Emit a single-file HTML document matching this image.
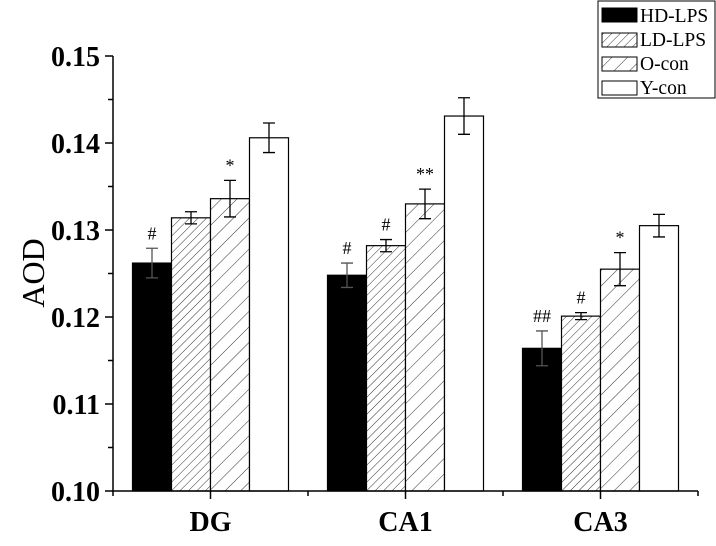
<!DOCTYPE html>
<html><head><meta charset="utf-8"><style>
body{margin:0;background:#fff;}
svg{display:block;font-family:"Liberation Serif",serif;}
</style></head><body>
<svg id="chart" width="716" height="546" viewBox="0 0 716 546">
<defs>
<pattern id="hatchDense" patternUnits="userSpaceOnUse" width="6" height="6" patternTransform="rotate(45)"><rect width="6" height="6" fill="#fff"/><line x1="0" y1="0" x2="0" y2="6" stroke="#333" stroke-width="1"/></pattern>
<pattern id="hatchSparse" patternUnits="userSpaceOnUse" width="11" height="11" patternTransform="rotate(45)"><rect width="11" height="11" fill="#fff"/><line x1="0" y1="0" x2="0" y2="11" stroke="#333" stroke-width="1"/></pattern>
</defs>
<g id="plot"></g>
<g id="legend">
<rect x="598" y="1" width="117" height="97" fill="#fff" stroke="#000" stroke-width="1"/>
<rect x="602" y="8" width="35" height="14" fill="#000" stroke="#000"/>
<text x="640" y="22" font-size="19.5">HD-LPS</text>
<rect x="602" y="33" width="35" height="14" fill="url(#hatchDense)" stroke="#000"/>
<text x="640" y="46" font-size="19.5">LD-LPS</text>
<rect x="602" y="57" width="35" height="14" fill="url(#hatchSparse)" stroke="#000"/>
<text x="640" y="70" font-size="19.5">O-con</text>
<rect x="602" y="81" width="35" height="14" fill="#fff" stroke="#000"/>
<text x="640" y="94" font-size="19.5">Y-con</text>
</g>
</svg>
<script>
const categories = ["DG", "CA1", "CA3"];
const seriesNames = ["HD-LPS", "LD-LPS", "O-con", "Y-con"];
const hdLps = [0.1262, 0.1248, 0.1164];
const ldLps = [0.1314, 0.1282, 0.1201];
const oCon = [0.1336, 0.1330, 0.1255];
const yCon = [0.1406, 0.1431, 0.1305];
const hdErr = [0.0017, 0.0014, 0.0020];
const ldErr = [0.0007, 0.0007, 0.0004];
const oErr = [0.0021, 0.0017, 0.0019];
const yErr = [0.0017, 0.0021, 0.0013];
const hdMarks = ["#", "#", "##"];
const ldMarks = ["", "#", "#"];
const oMarks = ["*", "**", "*"];
const yMarks = ["", "", ""];
const yTicks = [0.10, 0.11, 0.12, 0.13, 0.14, 0.15];
const yTickLabels = ["0.10", "0.11", "0.12", "0.13", "0.14", "0.15"];

const NS = "http://www.w3.org/2000/svg";
const g = document.getElementById("plot");
const X0 = 113, GW = 195, Y0 = 491, YMIN = 0.10, PPU = 8700, BW = 39;
const yS = v => Y0 - (v - YMIN) * PPU;
const xC = i => X0 + GW * (i + 0.5);
function mk(tag, attrs) { const e = document.createElementNS(NS, tag); for (const k in attrs) e.setAttribute(k, attrs[k]); g.appendChild(e); return e; }

const series = [hdLps, ldLps, oCon, yCon];
const errs = [hdErr, ldErr, oErr, yErr];
const marks = [hdMarks, ldMarks, oMarks, yMarks];
const fills = ["#000", "url(#hatchDense)", "url(#hatchSparse)", "#fff"];
const keys = ["hd-lps", "ld-lps", "o-con", "y-con"];

categories.forEach((c, i) => {
  series.forEach((s, j) => {
    const x = xC(i) - 2 * BW + j * BW;
    const top = yS(s[i]);
    const r = mk("rect", { x: x, y: top, width: BW, height: Y0 - top, fill: fills[j], stroke: "#000", "stroke-width": 1.2 });
    
    
    const cx = x + BW / 2, e = errs[j][i];
    const eh = yS(s[i] + e), el = yS(s[i] - e);
    const eb = mk("path", { d: `M${cx},${eh}V${el}M${cx-6},${eh}H${cx+6}M${cx-6},${el}H${cx+6}`, stroke: j === 0 ? "#555" : "#000", "stroke-width": 1.3, fill: "none" });
    
    
    if (marks[j][i]) {
      const t = mk("text", { x: cx, y: eh - 9, "text-anchor": "middle", "font-size": 18 });
      t.textContent = marks[j][i];
      
      
    }
  });
  const lbl = mk("text", { x: xC(i), y: 531, "text-anchor": "middle", "font-size": 28, "font-weight": "bold" });
  lbl.textContent = c;
  
  
  const tk = mk("line", { x1: xC(i), y1: Y0, x2: xC(i), y2: Y0 + 8, stroke: "#000", "stroke-width": 1.5 });
  
  
});
for (let i = 0; i <= categories.length; i++) {
  const tk = mk("line", { x1: X0 + GW * i, y1: Y0, x2: X0 + GW * i, y2: Y0 + 5, stroke: "#000", "stroke-width": 1.5 });
  
  
}
yTicks.forEach((v, k) => {
  const y = yS(v);
  const tk = mk("line", { x1: X0 - 8, y1: y, x2: X0, y2: y, stroke: "#000", "stroke-width": 1.5 });
  
  
  const t = mk("text", { x: 100, y: y + 10, "text-anchor": "end", "font-size": 28, "font-weight": "bold" });
  t.textContent = yTickLabels[k];
  
  
  if (k < yTicks.length - 1) {
    const m = yS(v + 0.005);
    const mt = mk("line", { x1: X0 - 5, y1: m, x2: X0, y2: m, stroke: "#000", "stroke-width": 1.5 });
    
    
  }
});
const ax = mk("path", { d: `M${X0},${yS(0.15)}V${Y0}H${X0 + GW * 3}`, stroke: "#000", "stroke-width": 1.5, fill: "none" });


const yt = mk("text", { x: 0, y: 0, transform: "translate(44,273) rotate(-90)", "text-anchor": "middle", "font-size": 32 });
yt.textContent = "AOD";


</script>
</body></html>
